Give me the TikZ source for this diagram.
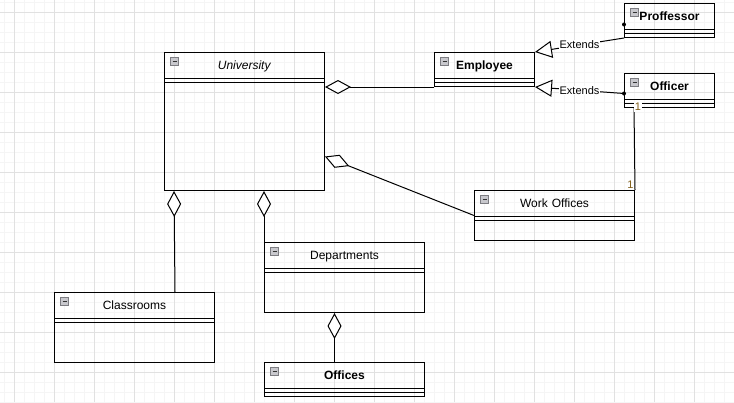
\documentclass[tikz,border=0pt]{standalone}
\usepackage{fontspec}
\setmainfont{Liberation Sans}
\usetikzlibrary{shapes,arrows.meta}
\usetikzlibrary{positioning}
\definecolor{minorgrid}{RGB}{245,245,245}
\definecolor{majorgrid}{RGB}{225,225,225}
\definecolor{iconfill}{RGB}{200,200,205}
\definecolor{iconline}{RGB}{125,125,130}
\definecolor{multcol}{RGB}{130,95,25}

\begin{document}
\begin{tikzpicture}[x=1pt, y=-1pt, line width=1pt]
		 \tikzstyle{class} = [draw, inner sep=0pt, anchor=north west, align=center, text height=17pt, font=\fontsize{12}{14}\selectfont,
		 	path picture={\draw[draw=iconline, fill=iconfill, line width=0.8pt] ([shift={(6pt,-5pt)}]path picture bounding box.north west) rectangle ++(8pt,-8pt);
		 	\draw[line width=1.2pt, black!80] ([shift={(8pt,-9pt)}]path picture bounding box.north west) -- ++(4pt,0pt);
		 	\draw ([yshift=-26pt]path picture bounding box.north west) -- ([yshift=-26pt]path picture bounding box.north east);
		 	\draw ([yshift=-30pt]path picture bounding box.north west) -- ([yshift=-30pt]path picture bounding box.north east);}];
		 \tikzstyle{agg} = [-{Diamond[fill=white, length=26pt, width=14pt]}];
		 \tikzstyle{ext} = [-{Triangle[fill=white, length=17pt, width=17pt]}];
		 \tikzstyle{lbl} = [fill=white, inner sep=0.5pt, font=\fontsize{11}{13}\selectfont];
		 \tikzstyle{mult} = [inner sep=1pt, text=multcol, font=\fontsize{11}{13}\selectfont];

		 \useasboundingbox (0,0) rectangle (734,402);
		 \draw[minorgrid, line width=0.8pt, shift={(4,2)}, step=10pt] (-4,-2) grid (730,400);
		 \draw[majorgrid, line width=0.8pt, shift={(14,12)}, step=40pt] (-14,-12) grid (720,390);

		 \node [class, text width=160pt, text depth=121pt] (U) at (164,52)  {\textit{University}};
		 \node [class, text width=100pt, text depth=17pt]  (E) at (434,52)  {\textbf{Employee}};
		 \node [class, text width=90pt,  text depth=17pt]  (P) at (624,3)   {\textbf{Proffessor}};
		 \node [class, text width=90pt,  text depth=17pt]  (O) at (624,73)  {\textbf{Officer}};
		 \node [class, text width=160pt, text depth=33pt]  (W) at (474,190) {Work Offices};
		 \node [class, text width=160pt, text depth=53pt]  (C) at (54,292)  {Classrooms};
		 \node [class, text width=160pt, text depth=53pt]  (D) at (264,242) {Departments};
		 \node [class, text width=160pt, text depth=17pt]  (F) at (264,362) {\textbf{Offices}};

		 \draw [agg] (E.south west) -- (U.east |- E.south west);
		 \draw [agg] (W.west) -- ([yshift=-35pt]U.east);
		 \draw [agg] ([xshift=-40pt]C.north east) -- ([xshift=10pt]U.south west);
		 \draw [agg] (D.north west) -- ([xshift=100pt]U.south west);
		 \draw [agg] ([xshift=-10pt]F.north) -- ([xshift=-10pt]D.south);

		 \draw [ext] (P.south west) -- node [lbl] {Extends} (E.north east);
		 \draw [ext] ([yshift=-3pt]O.west) -- node [lbl] {Extends} (E.south east);
		 \fill ([yshift=-4pt]P.west) circle (2pt);
		 \fill ([yshift=-3pt]O.west) circle (2pt);

		 \draw ([xshift=10pt]O.south west) -- node [mult, fill=white, at start, xshift=4pt, yshift=1pt] {1}
		 			node [mult, at end, anchor=south east] {1} (W.north east);
\end{tikzpicture}
\end{document}
